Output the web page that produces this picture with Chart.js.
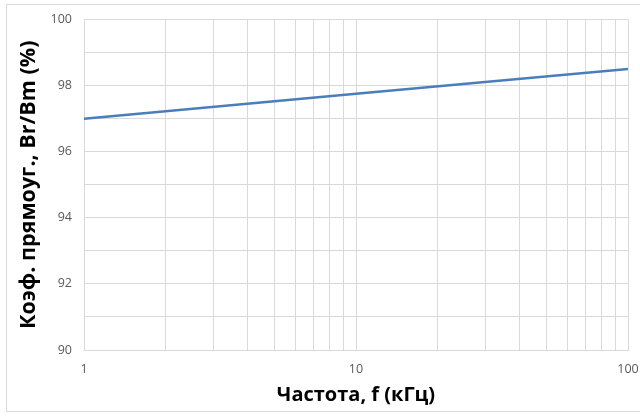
<!DOCTYPE html>
<html>
<head>
<meta charset="utf-8">
<script src="https://cdn.jsdelivr.net/npm/chart.js@4"></script>
<style>
	body { margin: 0; background: #ffffff; }
	#frame { position: absolute; left: 6px; top: 4px; width: 640px; height: 408px; box-sizing: border-box; border: 1px solid #d9d9d9; }
	#wrap { position: absolute; left: 0; top: 0; width: 640px; height: 419px; }
</style>
</head>
<body>
<div id="frame"></div>
<div id="wrap"><canvas id="chart"></canvas></div>
<script>
const frequency = [1, 10, 100];
const squareness = [97.0, 97.75, 98.5];

const xGridTicks = [1, 2, 3, 4, 5, 6, 7, 8, 9, 10, 20, 30, 40, 50, 60, 70, 80, 90, 100];
const xLabelTicks = [1, 10, 100];

const xTitle = "Частота, f (кГц)";
const yTitle = "Коэф. прямоуг., Br/Bm (%)";

const gridColor = "#d9d9d9";
const tickColor = "#595959";

const chartElement = document.getElementById("chart");

const chart = new Chart(chartElement,
{
	type: "line",
	data:
	{
		datasets: [
		{
			data: frequency.map((f, i) => ({ x: f, y: squareness[i] })),
			borderColor: "#4a7ebb",
			borderWidth: 2.5,
			pointRadius: 0,
			tension: 0
		} ]
	},
	options:
	{
		responsive: true,
		maintainAspectRatio: false,
		animation: false,
		layout: { padding: { top: 17, right: 0, left: 0, bottom: 0 } },
		plugins: { legend: { display: false }, tooltip: { enabled: false } },
		scales:
		{
			x:
			{
				type: "logarithmic",
				min: 1,
				max: 100,
				afterBuildTicks: scale => { scale.ticks = xGridTicks.map(v => ({ value: v })); },
				afterFit: scale =>
				{
					scale.height = 69;
					scale.paddingLeft = 0;
					scale.paddingRight = 12;
				},
				grid: { color: gridColor, drawTicks: false },
				border: { color: gridColor },
				ticks:
				{
					autoSkip: false,
					maxRotation: 0,
					padding: 12,
					color: tickColor,
					font: { family: "Open Sans", size: 12.5 },
					callback: val => xLabelTicks.includes(val) ? String(val) : ""
				},
				title:
				{
					display: true,
					text: xTitle,
					color: "#000000",
					font: { family: "Open Sans", size: 20, weight: "bold" },
					padding: { top: 0, bottom: 12 }
				}
			},
			y:
			{
				min: 90,
				max: 100,
				afterFit: scale => { scale.width = 84; },
				grid: { color: gridColor, drawTicks: false },
				border: { color: gridColor },
				ticks:
				{
					stepSize: 1,
					autoSkip: false,
					padding: 12,
					color: tickColor,
					font: { family: "Open Sans", size: 12.5 },
					callback: val => val % 2 === 0 ? String(val) : ""
				},
				title:
				{
					display: true,
					text: yTitle,
					color: "#000000",
					font: { family: "Open Sans", size: 21.5, weight: "bold" },
					padding: { top: 16, bottom: 0 }
				}
			}
		}
	}
});
</script>
</body>
</html>
